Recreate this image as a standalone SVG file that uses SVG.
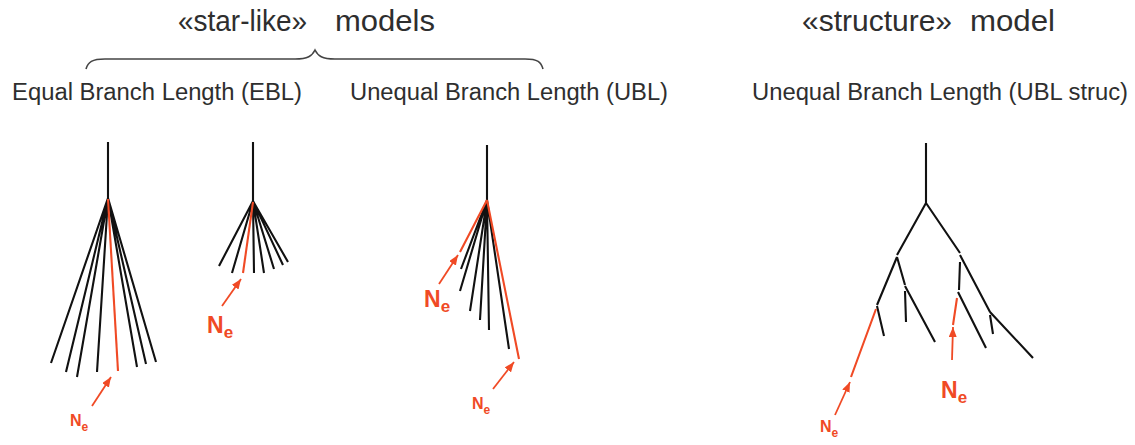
<svg xmlns="http://www.w3.org/2000/svg" width="1135" height="445" viewBox="0 0 1135 445">
<defs>
<style>
.t{font-family:"Liberation Sans",Arial,sans-serif;fill:#2e2e2e}
.title{font-size:29px}
.sub{font-size:23px}
.br{fill:none;stroke:#444;stroke-width:1.6}
.k{stroke:#111;stroke-width:2.1;stroke-linecap:butt;fill:none}
.r{stroke:#f04a25;stroke-width:2.1;fill:none}
.ar{stroke:#f04a25;stroke-width:1.8;fill:none;marker-end:url(#ah)}
.ne{font-family:"Liberation Sans",Arial,sans-serif;font-weight:bold;fill:#f04a25}
.nes{font-size:16px}
.nel{font-size:23px}
</style>
<marker id="ah" viewBox="0 0 10 8" refX="10" refY="4" markerWidth="10" markerHeight="8" markerUnits="userSpaceOnUse" orient="auto">
<path d="M0,0 L10,4 L0,8 z" fill="#f04a25"/>
</marker>
</defs>
<rect width="1135" height="445" fill="#fff"/>

<g id="headers">
<text class="t title" x="178" y="31" textLength="129" lengthAdjust="spacingAndGlyphs">«star-like»</text>
<text class="t title" x="335" y="31" textLength="100" lengthAdjust="spacingAndGlyphs">models</text>
<text class="t title" x="802" y="31" textLength="150" lengthAdjust="spacingAndGlyphs">«structure»</text>
<text class="t title" x="970" y="31" textLength="85" lengthAdjust="spacingAndGlyphs">model</text>
<path class="br" d="M86,69 C88,62 92,59 105,59 L295,59 C308,59 312,56 315,50 C318,56 322,59 335,59 L525,59 C538,59 541,62 543,69"/>
<text class="t sub" x="12" y="100" textLength="290" lengthAdjust="spacingAndGlyphs">Equal Branch Length (EBL)</text>
<text class="t sub" x="350" y="100" textLength="318" lengthAdjust="spacingAndGlyphs">Unequal Branch Length (UBL)</text>
<text class="t sub" x="752" y="100" textLength="376" lengthAdjust="spacingAndGlyphs">Unequal Branch Length (UBL struc)</text>
</g>

<g id="tree-ebl-1">
<path class="k" d="M108,142 L108,199 M108,198 L51,363 M108,198 L66,372 M108,198 L77,377 M108,198 L97,372 M108,198 L137,367 M108,198 L146,364 M108,198 L156,362"/>
<path class="r" d="M108,199 L118,371"/>
</g>

<g id="tree-ebl-2">
<path class="k" d="M253,142 L253,202 M253,201 L219,266 M253,201 L232,273 M253,201 L254,273 M253,201 L264,273 M253,201 L274,269 M253,201 L283,265 M253,201 L288,262"/>
<path class="r" d="M253,202 L243,273"/>
</g>

<g id="tree-ubl">
<path class="k" d="M487,145 L487,201 M487,200 L461,269 M487,200 L460,291 M487,200 L470,311 M487,200 L480,320 M487,200 L489,330 M487,200 L509,349"/>
<path class="r" d="M487,200 L460,252 M487,200 L519,359"/>
</g>

<g id="tree-struct">
<path class="k" d="M926,143 L926,203 M926,203 L897,255 M926,203 L960,253 M897,257 L877,305 M897,257 L905,285 M905,291 L906,322 M905,286 L935,342 M877,306 L884,336 M960,255 L990,312 M960,262 L959,290 M958,292 L986,348 M990,315 L993,334 M990,312 L1033,358"/>
<path class="r" d="M876,309 L851,377 M957,298 L953,325"/>
</g>

<g id="connectors">
<line class="ar" x1="92" y1="406" x2="111" y2="377"/>
<line class="ar" x1="222" y1="306" x2="241" y2="279"/>
<line class="ar" x1="439" y1="284" x2="458" y2="255"/>
<line class="ar" x1="493" y1="389" x2="514" y2="362"/>
<line class="ar" x1="835" y1="415" x2="850" y2="382"/>
<line class="ar" x1="952" y1="360" x2="953" y2="327"/>
</g>

<g id="labels">
<text class="ne nes" x="70" y="426">N<tspan font-size="12" dy="5">e</tspan></text>
<text class="ne nel" x="207" y="333">N<tspan font-size="17" dy="5">e</tspan></text>
<text class="ne nel" x="424" y="307">N<tspan font-size="17" dy="5">e</tspan></text>
<text class="ne nes" x="472" y="409">N<tspan font-size="12" dy="5">e</tspan></text>
<text class="ne nes" x="820" y="432">N<tspan font-size="12" dy="5">e</tspan></text>
<text class="ne nel" x="941" y="398">N<tspan font-size="17" dy="5">e</tspan></text>
</g>
</svg>
